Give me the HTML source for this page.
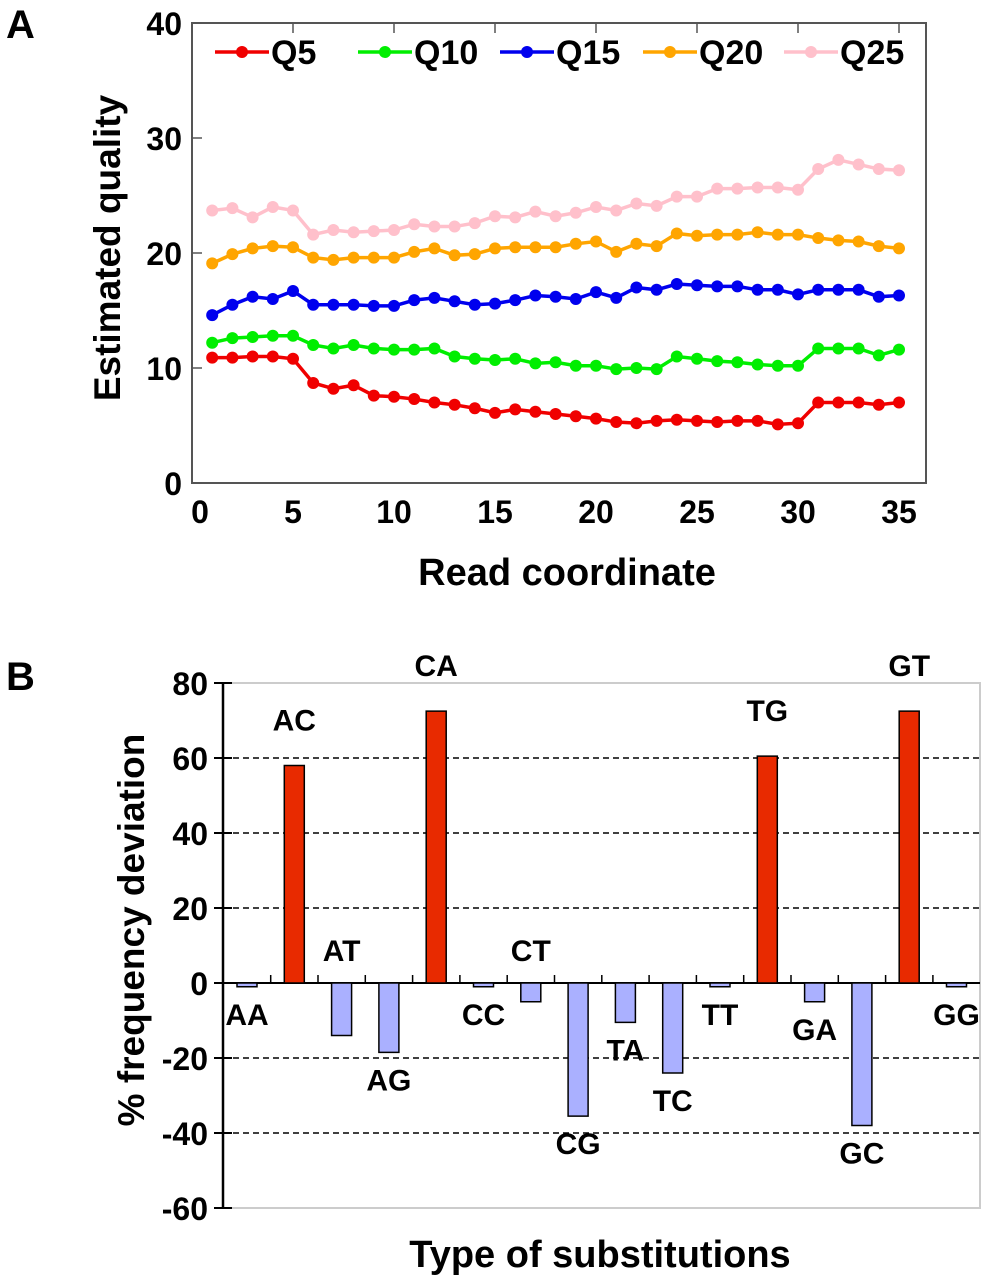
<!DOCTYPE html>
<html><head><meta charset="utf-8"><style>
html,body{margin:0;padding:0;background:#fff}
svg{display:block;font-family:"Liberation Sans",Arial,sans-serif;font-weight:bold}
</style></head><body>
<svg id="s" width="986" height="1280" viewBox="0 0 986 1280">
<text x="6" y="38" font-size="40">A</text>
<text x="6" y="690" font-size="40">B</text>
<g id="ga"></g>
<g id="gb"></g>
</svg>
<script>
// ---- Panel A data ----
const readCoords = [1,2,3,4,5,6,7,8,9,10,11,12,13,14,15,16,17,18,19,20,21,22,23,24,25,26,27,28,29,30,31,32,33,34,35];
const seriesNames = ["Q5","Q10","Q15","Q20","Q25"];
const q5  = [10.9,10.9,11.0,11.0,10.8,8.7,8.2,8.5,7.6,7.5,7.3,7.0,6.8,6.5,6.1,6.4,6.2,6.0,5.8,5.6,5.3,5.2,5.4,5.5,5.4,5.3,5.4,5.4,5.1,5.2,7.0,7.0,7.0,6.8,7.0];
const q10 = [12.2,12.6,12.7,12.8,12.8,12.0,11.7,12.0,11.7,11.6,11.6,11.7,11.0,10.8,10.7,10.8,10.4,10.5,10.2,10.2,9.9,10.0,9.9,11.0,10.8,10.6,10.5,10.3,10.2,10.2,11.7,11.7,11.7,11.1,11.6];
const q15 = [14.6,15.5,16.2,16.0,16.7,15.5,15.5,15.5,15.4,15.4,15.9,16.1,15.8,15.5,15.6,15.9,16.3,16.2,16.0,16.6,16.1,17.0,16.8,17.3,17.2,17.1,17.1,16.8,16.8,16.4,16.8,16.8,16.8,16.2,16.3];
const q20 = [19.1,19.9,20.4,20.6,20.5,19.6,19.4,19.6,19.6,19.6,20.1,20.4,19.8,19.9,20.4,20.5,20.5,20.5,20.8,21.0,20.1,20.8,20.6,21.7,21.5,21.6,21.6,21.8,21.6,21.6,21.3,21.1,21.0,20.6,20.4];
const q25 = [23.7,23.9,23.1,24.0,23.7,21.6,22.0,21.8,21.9,22.0,22.5,22.3,22.3,22.6,23.2,23.1,23.6,23.2,23.5,24.0,23.7,24.3,24.1,24.9,24.9,25.6,25.6,25.7,25.7,25.5,27.3,28.1,27.7,27.3,27.2];
const xTicksA = [0,5,10,15,20,25,30,35];
const yTicksA = [0,10,20,30,40];
// ---- Panel B data ----
const substitutions = ["AA","AC","AT","AG","CA","CC","CT","CG","TA","TC","TT","TG","GA","GC","GT","GG"];
const deviations = [-1,58,-14,-18.5,72.5,-1,-5,-35.5,-10.5,-24,-1,60.5,-5,-38,72.5,-1];
const labelAbove = [false,true,true,false,true,false,true,false,false,false,false,true,false,false,true,false];
const yTicksB = [80,60,40,20,0,-20,-40,-60];

const NS="http://www.w3.org/2000/svg";
function mk(tag,attrs,parent,txt){const e=document.createElementNS(NS,tag);for(const k in attrs)e.setAttribute(k,attrs[k]);if(txt!==undefined)e.textContent=txt;parent.appendChild(e);return e;}

// Panel A
const ga=document.getElementById('ga');
const xA=v=>192+v*20.2, yA=v=>483-v*11.5;
let fr=mk('rect',{x:192,y:23,width:734,height:460,fill:'none',stroke:'#555','stroke-width':2},ga);

xTicksA.forEach(t=>{
  let l=mk('line',{x1:xA(t),x2:xA(t),y1:23,y2:33,stroke:'#555','stroke-width':1.5},ga);
  
  let tx=mk('text',{x:xA(t)+(t===0?8:0),y:523,'font-size':32,'text-anchor':'middle'},ga,String(t));
  
});
yTicksA.forEach(t=>{
  let l=mk('line',{x1:192,x2:202,y1:yA(t),y2:yA(t),stroke:'#555','stroke-width':1.5},ga);
  
  let tx=mk('text',{x:182,y:yA(t)+12,'font-size':32,'text-anchor':'end'},ga,String(t));
  
});
let yt=mk('text',{x:0,y:0,'font-size':37,'text-anchor':'middle',transform:'translate(120,248) rotate(-90)'},ga,'Estimated quality');

let xt=mk('text',{x:567,y:585,'font-size':38,'text-anchor':'middle'},ga,'Read coordinate');

const allSeries=[q5,q10,q15,q20,q25];
const colors=['#f00000','#00ee00','#0000ee','#ffa500','#ffc0cb'];
const legX=[215,358,500,643,784];
allSeries.forEach((s,i)=>{
  let g=mk('g',{},ga);
  
  let pl=mk('polyline',{points:s.map((v,j)=>xA(readCoords[j])+','+yA(v)).join(' '),fill:'none',stroke:colors[i],'stroke-width':3.5},g);
  
  s.forEach((v,j)=>{
    let c=mk('circle',{cx:xA(readCoords[j]),cy:yA(v),r:6,fill:colors[i]},g);
    
  });
  let lg=mk('g',{},ga);
  
  mk('line',{x1:legX[i],x2:legX[i]+54,y1:52,y2:52,stroke:colors[i],'stroke-width':3.5},lg);
  mk('circle',{cx:legX[i]+27,cy:52,r:6,fill:colors[i]},lg);
  mk('text',{x:legX[i]+56,y:64,'font-size':34},lg,seriesNames[i]);
});

// Panel B
const gb=document.getElementById('gb');
const yB=v=>983-v*3.75, xB=i=>247+i*47.3;
let fb=mk('rect',{x:223,y:yB(80),width:757,height:yB(-60)-yB(80),fill:'none',stroke:'#ccc','stroke-width':2},gb);

yTicksB.forEach(t=>{
  if(t!==0&&t!==80&&t!==-60){
    let gl=mk('line',{x1:223,x2:980,y1:yB(t),y2:yB(t),stroke:'#000','stroke-width':1.5,'stroke-dasharray':'6,4'},gb);
    
  }
  let l=mk('line',{x1:214,x2:232,y1:yB(t),y2:yB(t),stroke:'#000','stroke-width':2},gb);
  
  let tx=mk('text',{x:208,y:yB(t)+12,'font-size':32,'text-anchor':'end'},gb,String(t));
  
});
let ax=mk('line',{x1:223,x2:223,y1:yB(80),y2:yB(-60),stroke:'#000','stroke-width':2.5},gb);

let zl=mk('line',{x1:214,x2:980,y1:yB(0),y2:yB(0),stroke:'#000','stroke-width':2},gb);

substitutions.forEach((s,i)=>{
  if(i>0){let tk=mk('line',{x1:xB(i)-23.6,x2:xB(i)-23.6,y1:yB(0)-8,y2:yB(0),stroke:'#000','stroke-width':1.5},gb);
  }
  const v=deviations[i];
  const top=Math.min(yB(v),yB(0)), h=Math.abs(yB(v)-yB(0));
  let b=mk('rect',{x:xB(i)-10,y:top,width:20,height:Math.max(h,2),fill:v>0?'#e82a00':'#aab0ff',stroke:'#000','stroke-width':1.5},gb);
  
  let ly = v>0 ? yB(v)-35 : (labelAbove[i] ? yB(0)-22 : yB(v)+38);
  let t=mk('text',{x:xB(i),y:ly,'font-size':30,'text-anchor':'middle'},gb,s);
  
});
let yt2=mk('text',{x:0,y:0,'font-size':37,'text-anchor':'middle',transform:'translate(144,930) rotate(-90)'},gb,'% frequency deviation');

let xt2=mk('text',{x:600,y:1267,'font-size':38,'text-anchor':'middle'},gb,'Type of substitutions');

</script>
</body></html>
